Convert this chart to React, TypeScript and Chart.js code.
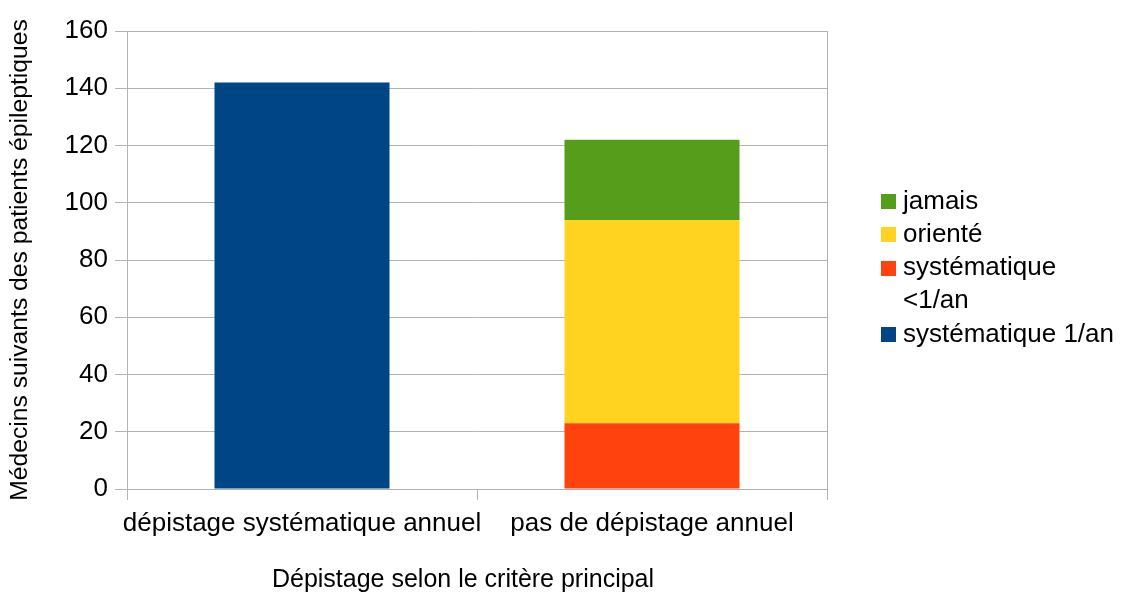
import React, { useEffect, useRef } from "react";
import { Chart, registerables } from "chart.js";

Chart.register(...registerables);

const categories = ["dépistage systématique annuel", "pas de dépistage annuel"];
const seriesLabels = ["systématique 1/an", "systématique <1/an", "orienté", "jamais"];
const systematique1an = [142, null];
const systematiqueMoins1an = [null, 23];
const oriente = [null, 71];
const jamais = [null, 28];
const seriesColors = ["#004586", "#ff420e", "#ffd320", "#579d1c"];
const yTitle = "Médecins suivants des patients épileptiques";
const xTitle = "Dépistage selon le critère principal";

const FONT = "'Liberation Sans', Arial, sans-serif";
const GRID = "#b3b3b3";

const sideLegend = {
  id: "sideLegend",
  afterDraw(chart: any) {
    const ctx = chart.ctx;
    const area = chart.chartArea;
    const ds = chart.data.datasets.slice().reverse();
    const fontSize = 26;
    const lineH = 33.25;
    const boxX = 881;
    const textX = 903;
    const maxW = chart.width - textX - 3;
    ctx.save();
    ctx.font = `${fontSize}px ${FONT}`;
    ctx.textBaseline = "middle";
    ctx.textAlign = "left";
    const items = ds.map((d: any) => {
      const words = String(d.label).split(" ");
      const lines: string[] = [];
      let cur = "";
      for (const w of words) {
        const test = cur ? cur + " " + w : w;
        if (cur && ctx.measureText(test).width > maxW) {
          lines.push(cur);
          cur = w;
        } else cur = test;
      }
      if (cur) lines.push(cur);
      return { color: d.backgroundColor, lines };
    });
    const total = items.reduce((s: number, it: any) => s + it.lines.length, 0);
    let y = (area.top + area.bottom) / 2 + 8 - ((total - 1) * lineH) / 2;
    for (const it of items) {
      ctx.fillStyle = it.color;
      ctx.fillRect(boxX, Math.round(y - 7.5), 15, 15);
      ctx.fillStyle = "#000";
      for (const ln of it.lines) {
        ctx.fillText(ln, textX, y);
        y += lineH;
      }
    }
    // x axis title
    ctx.font = `25px ${FONT}`;
    ctx.textAlign = "center";
    ctx.fillText(xTitle, (area.left + area.right) / 2 - 14, 580);
    ctx.restore();
  },
};

export default function App() {
  const ref = useRef<HTMLCanvasElement | null>(null);
  useEffect(() => {
    if (!ref.current) return;
    const seriesData = [systematique1an, systematiqueMoins1an, oriente, jamais];
    const chart = new Chart(ref.current, {
      type: "bar",
      data: {
        labels: categories,
        datasets: seriesLabels.map((label, i) => ({
          label,
          data: seriesData[i] as any,
          backgroundColor: seriesColors[i],
          borderWidth: 0,
          barPercentage: 0.5,
          categoryPercentage: 1,
        })),
      },
      options: {
        responsive: false,
        animation: false,
        layout: { padding: { top: 31, right: 295, bottom: 0, left: 0 } },
        plugins: {
          legend: { display: false },
          tooltip: { enabled: false },
        },
        scales: {
          x: {
            stacked: true,
            offset: true,
            grid: {
              offset: true,
              drawOnChartArea: false,
              drawTicks: true,
              tickLength: 11,
              color: GRID,
            },
            border: { display: true, color: GRID },
            ticks: {
              color: "#000",
              padding: 8,
              autoSkip: false,
              maxRotation: 0,
              minRotation: 0,
              font: { family: FONT, size: 26 },
            },
            title: { display: false },
            afterFit: (s: any) => {
              s.height = 106;
            },
          },
          y: {
            stacked: true,
            min: 0,
            max: 160,
            ticks: {
              stepSize: 20,
              color: "#000",
              padding: 7,
              font: { family: FONT, size: 26 },
            },
            grid: { color: GRID, tickLength: 12 },
            border: { display: true, color: GRID },
            title: {
              display: true,
              text: yTitle,
              color: "#000",
              padding: { top: 5, bottom: 0 },
              font: { family: FONT, size: 24.7 },
            },
            afterFit: (s: any) => {
              s.width = 127;
            },
          },
          y2: {
            position: "right",
            display: true,
            min: 0,
            max: 160,
            ticks: { display: false },
            grid: { drawOnChartArea: false, drawTicks: false },
            border: { display: true, color: GRID },
            afterFit: (s: any) => {
              s.width = 0;
            },
          },
        },
      },
      plugins: [sideLegend],
    });
    return () => chart.destroy();
  }, []);
  return (
    <div style={{ position: "absolute", left: 0, top: 0, width: 1122, height: 595, background: "#fff" }}>
      <canvas ref={ref} width={1122} height={595} />
    </div>
  );
}
